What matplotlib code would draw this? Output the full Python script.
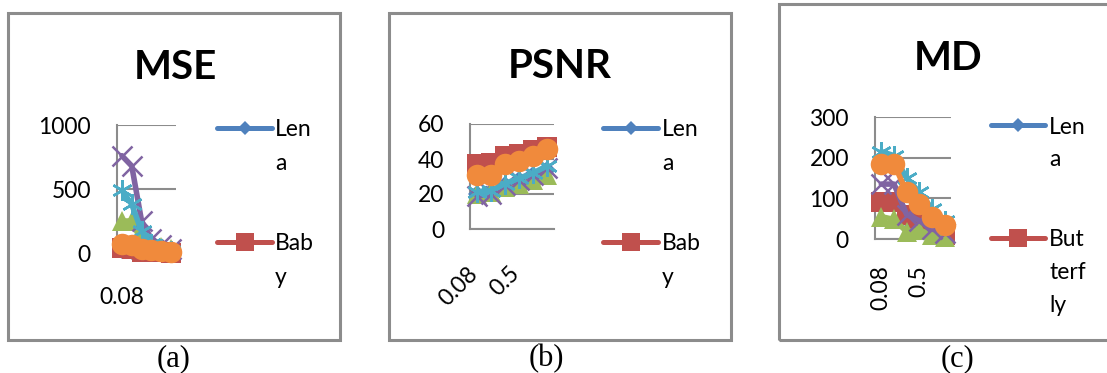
import matplotlib
matplotlib.use("Agg")
import matplotlib.pyplot as plt
from matplotlib.lines import Line2D
from matplotlib.patches import Rectangle
import matplotlib.transforms as mtransforms

W, H, DPI = 1107, 373, 100

# ---------------- data ----------------
categories = ["0.08", "0.1", "0.25", "0.5", "0.75", "1"]

mse_lena = [20, 15, 8, 5, 3, 2]
mse_baby = [40, 30, 10, 5, 5, 3]
mse_green = [250, 250, 90, 60, 45, 30]
mse_purple = [760, 680, 250, 110, 60, 30]
mse_cyan = [490, 380, 170, 70, 30, 15]
mse_orange = [70, 60, 30, 20, 15, 10]

psnr_lena = [20, 21, 25, 28, 31, 34]
psnr_baby = [37, 38, 42, 43, 45, 47]
psnr_green = [20, 21, 24, 26, 28, 31]
psnr_purple = [19, 20, 25, 28, 31, 35]
psnr_cyan = [21, 22, 26, 29, 32, 36]
psnr_orange = [31, 31, 37, 39, 42, 46]

md_lena = [85, 85, 50, 35, 20, 8]
md_butterfly = [90, 90, 60, 40, 25, 10]
md_green = [55, 48, 18, 22, 10, 5]
md_purple = [135, 135, 60, 45, 25, 15]
md_cyan = [215, 205, 150, 115, 75, 45]
md_orange = [185, 185, 115, 85, 55, 35]

titles = ["MSE", "PSNR", "MD"]
captions = ["(a)", "(b)", "(c)"]
mse_yticks = [0, 500, 1000]
psnr_yticks = [0, 20, 40, 60]
md_yticks = [0, 100, 200, 300]
legend_a = ["Len\na", "Bab\ny"]
legend_b = ["Len\na", "Bab\ny"]
legend_c = ["Len\na", "But\nterf\nly"]

# ---------------- style ----------------
COLORS = ["#4F81BD", "#C0504D", "#9BBB59", "#8064A2", "#4BACC6", "#F08A3C"]
MARKERS = ["D", "s", "^", "x", (6, 2, 0), "o"]
MSIZE = [9, 14, 15, 14, 15, 15.5]
GRID = "#8C8C8C"
FONT = "Lato"
TICKFS = 16.5

fig = plt.figure(figsize=(W / DPI, H / DPI), dpi=DPI)


def fx(x):
    return x / W


def fy(y):
    return 1 - y / H


def px_rect(x0, y0, x1, y1):
    return [x0 / W, 1 - y1 / H, (x1 - x0) / W, (y1 - y0) / H]


panels = [
    dict(frame=(8, 13, 340, 340), plot=(117, 125, 176, 253), ymax=1000,
         yticks=mse_yticks, series=[mse_lena, mse_baby, mse_green, mse_purple, mse_cyan, mse_orange],
         title_xy=(175, 79), caption_x=174, legend=legend_a,
         leg_x=(217, 272), leg_y=[128, 242], text_x=275, pitch=33,
         xlab_idx=[0], xrot=0, xpad_px=34, xoff=0),
    dict(frame=(389, 13, 731, 340), plot=(470, 124, 554, 229), ymax=60,
         yticks=psnr_yticks, series=[psnr_lena, psnr_baby, psnr_green, psnr_purple, psnr_cyan, psnr_orange],
         title_xy=(560, 78), caption_x=546, legend=legend_b,
         leg_x=(603, 658), leg_y=[128, 242], text_x=662, pitch=33,
         xlab_idx=[0, 3], xrot=45, xpad_px=34, xoff=5),
    dict(frame=(779, 4, 1115, 340), plot=(875, 117, 951, 239), ymax=300,
         yticks=md_yticks, series=[md_lena, md_butterfly, md_green, md_purple, md_cyan, md_orange],
         title_xy=(948, 70), caption_x=958, legend=legend_c,
         leg_x=(991, 1045), leg_y=[125, 238], text_x=1049, pitch=32.5,
         xlab_idx=[0, 3], xrot=90, xpad_px=26, xoff=0),
]

xs = list(range(len(categories)))

for i, p in enumerate(panels):
    x0, y0, x1, y1 = p["frame"]
    fig.add_artist(Rectangle((fx(x0), fy(y1)), fx(x1 - x0), (y1 - y0) / H,
                             transform=fig.transFigure, fill=False,
                             edgecolor=GRID, linewidth=2.2))

    ax = fig.add_axes(px_rect(*p["plot"]))
    ax.set_facecolor("none")
    ax.set_xlim(-0.5, len(categories) - 0.5)
    ax.set_ylim(0, p["ymax"])
    ax.set_yticks(p["yticks"])
    ax.set_yticklabels([str(v) for v in p["yticks"]], fontfamily=FONT, fontsize=TICKFS)
    ax.yaxis.grid(True, color=GRID, linewidth=1.5)
    ax.set_axisbelow(True)
    for s in ["top", "right"]:
        ax.spines[s].set_visible(False)
    for s in ["left", "bottom"]:
        ax.spines[s].set_color(GRID)
        ax.spines[s].set_linewidth(1.5)
    ax.tick_params(axis="y", length=0, pad=26 * 0.72)
    ax.tick_params(axis="x", length=0, pad=p["xpad_px"] * 0.72)
    ax.set_xticks(xs)
    labels = [c if k in p["xlab_idx"] else "" for k, c in enumerate(categories)]
    if p["xrot"] == 0:
        ax.set_xticklabels(labels, fontfamily=FONT, fontsize=TICKFS)
    elif p["xrot"] == 45:
        ax.set_xticklabels(labels, fontfamily=FONT, fontsize=TICKFS, rotation=45,
                           ha="right", va="top")
        off = mtransforms.ScaledTranslation(p["xoff"] / DPI, 0, fig.dpi_scale_trans)
        for lab in ax.get_xticklabels():
            lab.set_transform(lab.get_transform() + off)
    else:
        ax.set_xticklabels(labels, fontfamily=FONT, fontsize=TICKFS, rotation=90,
                           ha="center", va="top")

    for k, vals in enumerate(p["series"]):
        mk = MARKERS[k]
        kw = dict(color=COLORS[k], linewidth=4.0, marker=mk, markersize=MSIZE[k],
                  markerfacecolor=COLORS[k], markeredgecolor=COLORS[k],
                  clip_on=False, zorder=3 + k, solid_capstyle="round", solid_joinstyle="round")
        if mk == "x" or isinstance(mk, tuple):
            kw["markeredgewidth"] = 1.8
        else:
            kw["markeredgewidth"] = 0
        ax.plot(xs, vals, **kw)

    # title
    tx, ty = p["title_xy"]
    fig.text(fx(tx), fy(ty), titles[i], ha="center", va="baseline",
             fontfamily=FONT, fontweight="bold", fontsize=29)
    # caption
    fig.text(fx(p["caption_x"]), fy(366), captions[i], ha="center", va="baseline",
             fontfamily="Liberation Serif", fontsize=22)

    # legend (first two entries visible)
    lx0, lx1 = p["leg_x"]
    for k in range(2):
        ly = p["leg_y"][k]
        fig.add_artist(Line2D([fx(lx0), fx(lx1)], [fy(ly), fy(ly)], transform=fig.transFigure,
                              color=COLORS[k], linewidth=3.6, solid_capstyle="round"))
        fig.add_artist(Line2D([fx((lx0 + lx1) / 2)], [fy(ly)], transform=fig.transFigure,
                              linestyle="none", marker=MARKERS[k],
                              markersize=(7.5 if k == 0 else 12.5), color=COLORS[k],
                              markeredgewidth=0))
        for j, line in enumerate(p["legend"][k].split("\n")):
            fig.text(fx(p["text_x"]), fy(ly + 8.5 + j * p["pitch"]), line, ha="left",
                     va="baseline", fontfamily=FONT, fontsize=TICKFS)

fig.savefig("out.png", dpi=DPI)
